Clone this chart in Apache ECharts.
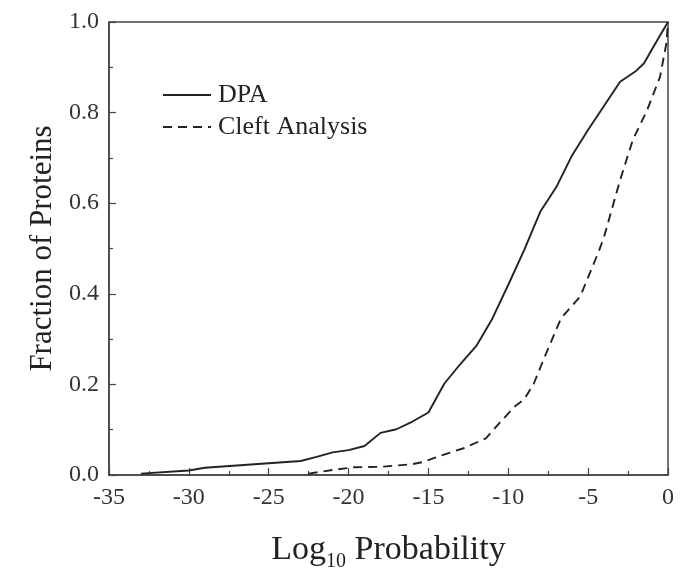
<!DOCTYPE html>
<html>
<head>
<meta charset="utf-8">
<script src="https://cdn.jsdelivr.net/npm/echarts@6/dist/echarts.min.js"></script>
<style>html,body{margin:0;padding:0;background:#fff}#c{width:683px;height:576px}</style>
</head>
<body>
<div id="c"></div>
<script>
const dpaX = [-33,-30,-29,-25,-23,-22,-21,-20,-19,-18,-17,-16,-15,-14,-13,-12,-11,-10,-9,-8,-7,-6,-5,-4,-3,-2,-1.5,-1,-0.5,0];
const dpaY = [0.003,0.01,0.016,0.026,0.031,0.04,0.05,0.055,0.064,0.093,0.101,0.118,0.138,0.202,0.245,0.285,0.345,0.42,0.497,0.581,0.635,0.706,0.762,0.815,0.868,0.892,0.909,0.94,0.97,1.0];
const cleftX = [-22.5,-21,-19.7,-18,-16,-15.3,-14.3,-12.8,-11.4,-10.6,-9.6,-9,-8.4,-7.8,-6.7,-5.5,-4.9,-4.3,-4,-3,-2.2,-1.3,-0.5,-0.1,0];
const cleftY = [0.003,0.011,0.017,0.018,0.024,0.029,0.042,0.059,0.081,0.113,0.151,0.167,0.202,0.254,0.346,0.394,0.445,0.497,0.526,0.651,0.74,0.806,0.879,0.953,1.0];
const seriesNames = ['DPA', 'Cleft Analysis'];

const font = '"Liberation Serif", "Times New Roman", serif';
const pair = (xs, ys) => xs.map((x, i) => [x, ys[i]]);
const chart = echarts.init(document.getElementById('c'), null, {renderer: 'canvas'});
chart.setOption({
  animation: false,
  backgroundColor: '#fff',
  grid: {left: 109, right: 15, top: 22, bottom: 101, show: true, borderColor: '#444', borderWidth: 1.5, containLabel: false, outerBoundsMode: 'none'},
  legend: {
    orient: 'vertical', left: 157, top: 77, itemWidth: 48, itemHeight: 14, itemGap: 6,
    itemStyle: {opacity: 0},
    textStyle: {fontFamily: font, fontSize: 26, color: '#222', padding: [0, 0, 0, 2]},
    data: seriesNames
  },
  xAxis: {
    type: 'value', min: -35, max: 0, interval: 5,
    axisLine: {onZero: false, lineStyle: {color: '#444', width: 1.5}},
    axisTick: {inside: true, length: 7, lineStyle: {color: '#444', width: 1.2}},
    minorTick: {show: true, splitNumber: 2, length: 4, lineStyle: {color: '#444', width: 1.2}},
    splitLine: {show: false},
    axisLabel: {fontFamily: font, fontSize: 24, color: '#333', margin: 11},
    name: 'Log{sub|10} Probability', nameLocation: 'middle', nameGap: 53,
    nameTextStyle: {fontFamily: font, fontSize: 34, color: '#222', rich: {sub: {fontFamily: font, fontSize: 20, color: '#222', verticalAlign: 'bottom', padding: [24, 0, 0, 0]}}}
  },
  yAxis: {
    type: 'value', min: 0, max: 1, interval: 0.2,
    axisLine: {onZero: false, lineStyle: {color: '#444', width: 1.5}},
    axisTick: {inside: true, length: 7, lineStyle: {color: '#444', width: 1.2}},
    minorTick: {show: true, splitNumber: 2, length: 4, lineStyle: {color: '#444', width: 1.2}},
    splitLine: {show: false},
    axisLabel: {fontFamily: font, fontSize: 24, color: '#333', margin: 10, formatter: v => v.toFixed(1)},
    name: 'Fraction of Proteins', nameLocation: 'middle', nameGap: 50,
    nameTextStyle: {fontFamily: font, fontSize: 31, color: '#222'}
  },
  series: [
    {name: seriesNames[0], type: 'line', data: pair(dpaX, dpaY), symbol: 'none', lineStyle: {color: '#222', width: 1.9}, itemStyle: {color: '#222'}},
    {name: seriesNames[1], type: 'line', data: pair(cleftX, cleftY), symbol: 'none', lineStyle: {color: '#222', width: 1.9, type: [9, 6]}, itemStyle: {color: '#222'}}
  ]
});
</script>
</body>
</html>
